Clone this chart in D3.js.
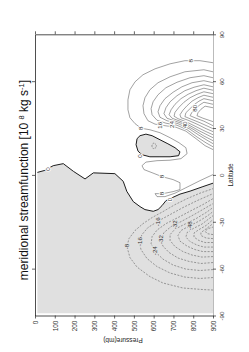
<!DOCTYPE html>
<html>
<head>
<meta charset="utf-8">
<script src="https://cdn.jsdelivr.net/npm/d3@7"></script>
<style>
  body { margin: 0; background: #fff; }
  svg { display: block; font-family: "Liberation Sans", Arial, sans-serif; }
</style>
</head>
<body>
<svg id="chart" width="249" height="352"></svg>
<script>
// axis ticks
var pressureTicks = [0, 100, 200, 300, 400, 500, 600, 700, 800, 900];
var latTicks = [90, 60, 30, 0, -30, -60, -90];
var latFrameTicks = [60, 0, -60];

// model domain edges (grid top level, southern-most row)
var modelTop = 12;
var modelSouth = -88.5;

// all lines are [latitude, pressure] pairs
var zeroLine = [[1.6,12],[2.9,50],[5.9,92],[7.2,143],[2.3,194],[-2.6,253],[1.3,295],[0.8,404],
    [-4.1,446],[-10.5,464],[-17.1,497],[-20.3,531],[-22.2,556],[-23.3,598],[-22.2,622],[-19.7,642],
    [-16.5,662],[-15.2,683],[-12.3,733],[-10.4,784],[-7.5,849],[-5.3,900]];

var zeroIsland = [[19.3,511],[23.2,516],[25.1,531],[26.1,561],[25.1,592],[22.5,632],[19.9,672],
    [17.4,708],[14.8,733],[12.3,726],[11.6,683],[11.6,632],[11.6,581],[12.9,541],[15.2,521]];

var islandCore = [[18.5,590],[20.5,600],[19.3,614],[17.4,612],[16.8,598]];

var posLevels = [8, 16, 24, 32, 40, 48, 56, 64, 72, 80, 88];
var posLines = [
    [[0.2,900],[-3.7,834],[-8.2,763],[-11.7,708],[-13.9,657],[-13.9,617],[-12.0,607],[-12.0,647],
     [-10.7,698],[-9.4,733],[-5.0,733],[-3.0,698],[-1.1,642],[1.4,592],[3.4,551],[5.9,541],[8.2,561],
     [9.1,617],[9.4,683],[10.4,738],[13.6,769],[17.4,763],[20.6,728],[23.8,683],[27.0,632],[28.9,581],
     [29.9,536],[32.8,506],[36.6,480],[41.7,470],[48.1,470],[54.5,480],[59.6,506],[64.1,546],[67.9,607],
     [71.1,683],[73.1,758],[73.1,834],[72.4,870],[71.8,900]],
    [[66.0,900],[67.3,854],[66.0,758],[62.8,683],[59.0,622],[54.5,581],[49.4,556],[44.3,546],[39.2,551],
     [34.7,571],[32.5,607],[31.5,657],[30.5,713],[28.0,763],[23.2,814],[18.7,860],[16.2,900]],
    [[62.2,900],[63.5,854],[62.2,784],[59.3,718],[55.8,662],[51.3,622],[46.8,597],[42.4,587],[38.5,592],
     [35.0,617],[33.1,662],[31.8,718],[28.9,769],[24.3,819],[20.5,865],[18.0,900]],
    [[59.0,900],[60.3,854],[59.0,794],[56.4,743],[52.9,698],[48.8,657],[44.3,632],[40.4,622],[36.9,632],
     [34.7,667],[32.8,723],[29.6,779],[25.4,829],[22.2,870],[20.0,900]],
    [[56.4,900],[57.7,854],[56.1,804],[53.9,758],[50.7,718],[46.8,683],[43.0,662],[39.2,652],[36.3,667],
     [34.7,703],[32.5,753],[28.9,804],[24.9,854],[21.9,900]],
    [[54.2,900],[55.5,854],[53.9,814],[51.6,774],[48.8,738],[45.2,708],[41.7,688],[38.5,678],[36.3,693],
     [34.4,733],[31.5,784],[28.0,834],[23.8,900]],
    [[52.0,900],[53.2,854],[51.6,819],[49.4,784],[46.5,753],[43.3,728],[40.1,708],[37.6,703],[36.0,723],
     [34.1,763],[30.9,814],[28.0,860],[25.7,900]],
    [[49.7,900],[51.0,854],[49.4,824],[47.2,794],[44.3,769],[41.4,748],[38.5,733],[36.6,738],[35.0,774],
     [32.5,819],[29.6,865],[27.7,900]],
    [[47.5,900],[48.8,854],[47.2,829],[44.9,804],[42.4,784],[39.8,763],[37.3,758],[35.7,789],[33.4,834],
     [29.6,900]],
    [[45.2,900],[46.5,854],[44.9,834],[42.7,814],[40.1,794],[37.9,784],[36.3,814],[34.4,854],[31.5,900]],
    [[43.0,900],[44.0,860],[42.0,839],[39.8,824],[37.9,819],[36.3,849],[34.1,900]]
];

var negLevels = [-8, -16, -24, -32, -40, -48, -56, -64, -72, -80];
var negLines = [
    [[-73.7,900],[-73.4,849],[-72.4,748],[-69.2,647],[-65.1,581],[-59.0,516],[-52.9,480],[-45.9,465],
     [-40.8,475],[-35.6,506],[-31.2,546],[-27.3,592],[-23.5,647],[-19.0,708],[-15.2,769],[-11.7,834],[-8.8,900]],
    [[-65.7,900],[-66.3,834],[-65.4,758],[-62.8,683],[-58.7,617],[-53.5,566],[-47.8,536],[-42.7,526],
     [-38.2,541],[-33.7,571],[-29.6,622],[-25.4,683],[-20.9,748],[-16.5,819],[-12.0,900]],
    [[-60.6,900],[-61.2,834],[-60.3,763],[-57.7,698],[-53.9,647],[-49.1,607],[-44.0,587],[-39.5,592],
     [-35.3,617],[-31.2,662],[-27.3,723],[-22.9,789],[-19.0,849],[-15.2,900]],
    [[-56.1,900],[-56.7,839],[-55.4,779],[-53.2,723],[-49.7,678],[-45.6,647],[-41.4,637],[-36.9,652],
     [-33.1,688],[-29.6,743],[-25.4,804],[-21.3,860],[-18.4,900]],
    [[-52.3,900],[-52.6,844],[-51.3,794],[-49.1,748],[-45.9,708],[-42.0,683],[-38.2,683],[-34.7,708],
     [-31.5,758],[-28.0,814],[-24.1,865],[-20.9,900]],
    [[-49.1,900],[-49.1,849],[-47.8,809],[-45.6,769],[-42.4,733],[-38.8,723],[-35.6,738],[-32.8,779],
     [-29.6,829],[-26.4,870],[-23.5,900]],
    [[-46.2,900],[-46.2,854],[-44.9,819],[-42.7,784],[-39.8,763],[-36.9,769],[-34.4,799],[-31.5,844],[-26.1,900]],
    [[-43.3,900],[-43.3,860],[-42.0,829],[-39.8,804],[-37.2,804],[-35.0,829],[-32.4,865],[-28.6,900]],
    [[-40.8,900],[-40.4,865],[-38.8,839],[-36.9,839],[-35.0,860],[-31.2,900]],
    [[-38.2,900],[-37.6,870],[-36.0,860],[-34.4,875],[-33.4,900]]
];

// contour labels: text, latitude, pressure
var labels = [
    ['8', 73.1, 789], ['8', 29.9, 536], ['8', -1.1, 642], ['8', -12.0, 642],
    ['16', 31.8, 632], ['24', 32.3, 693], ['40', 32.0, 760], ['80', 42.7, 809],
    ['0', 3.7, 63], ['0', 12.0, 531], ['0', -15.8, 683],
    ['-8', -45.9, 465], ['-16', -42.7, 531], ['-24', -48.5, 605], ['-32', -41.4, 637],
    ['-16', -30.0, 620], ['-32', -32.0, 705], ['-48', -32.5, 785]
];

var grey = '#e0e0e0';
var svg = d3.select('#chart');

var x = d3.scaleLinear().domain([0, 900]).range([35, 213]);
var y = d3.scaleLinear().domain([90, -90]).range([34.3, 315.5]);
var line = d3.line().x(function(d) { return x(d[1]); }).y(function(d) { return y(d[0]); });

// shaded negative area
svg.append('path')
    .attr('d', line(zeroLine.concat([[modelSouth, 900], [modelSouth, modelTop]])) + 'Z')
    .attr('fill', grey);
svg.append('path')
    .attr('d', line(zeroIsland) + 'Z')
    .attr('fill', grey);

// positive contours
svg.append('g').selectAll('path')
    .data(posLines)
    .join('path')
    .attr('class', function(d, i) { return 'c' + posLevels[i]; })
    .attr('d', line)
    .attr('fill', 'none')
    .attr('stroke', '#555')
    .attr('stroke-width', 0.55);

// negative contours (dashed)
svg.append('g').selectAll('path')
    .data(negLines)
    .join('path')
    .attr('class', function(d, i) { return 'c' + negLevels[i]; })
    .attr('d', line)
    .attr('fill', 'none')
    .attr('stroke', '#555')
    .attr('stroke-width', 0.55)
    .attr('stroke-dasharray', '2,1.4');

svg.append('path')
    .attr('d', line(islandCore) + 'Z')
    .attr('fill', 'none')
    .attr('stroke', '#555')
    .attr('stroke-width', 0.55)
    .attr('stroke-dasharray', '1.5,1');

// zero line, bold
svg.append('path')
    .attr('d', line(zeroLine))
    .attr('fill', 'none')
    .attr('stroke', '#111')
    .attr('stroke-width', 0.95);
svg.append('path')
    .attr('d', line(zeroIsland) + 'Z')
    .attr('fill', 'none')
    .attr('stroke', '#111')
    .attr('stroke-width', 0.95);

// contour labels
svg.append('g').selectAll('text')
    .data(labels)
    .join('text')
    .attr('transform', function(d) { return 'translate(' + x(d[2]) + ',' + y(d[1]) + ') rotate(-90)'; })
    .attr('text-anchor', 'middle')
    .attr('dy', '0.35em')
    .attr('font-size', 6.2)
    .attr('fill', '#333')
    .attr('stroke', function(d) { return d[0].charAt(0) === '-' ? grey : '#fff'; })
    .attr('stroke-width', 2)
    .attr('paint-order', 'stroke')
    .text(function(d) { return d[0]; });

// axes
function styleAxis(g) {
    g.attr('font-family', null).attr('font-size', null);
    g.selectAll('line').attr('stroke', '#222').attr('stroke-width', 0.7);
    g.select('.domain').attr('stroke', '#222').attr('stroke-width', 0.8);
}

var bottomAxis = svg.append('g')
    .attr('transform', 'translate(0,315.5)')
    .call(d3.axisBottom(x).tickValues(pressureTicks).tickSize(3).tickSizeOuter(0)
        .tickFormat(function(d) { return String(d); }))
    .call(styleAxis);
bottomAxis.selectAll('text')
    .attr('transform', 'rotate(-90)')
    .attr('x', -5).attr('y', 0).attr('dy', '0.35em')
    .attr('text-anchor', 'end')
    .attr('fill', '#333')
    .attr('font-size', 6.5);

svg.append('g')
    .attr('transform', 'translate(0,34.3)')
    .call(d3.axisTop(x).tickValues(pressureTicks).tickSize(3).tickSizeOuter(0).tickFormat(''))
    .call(styleAxis);

svg.append('g')
    .attr('transform', 'translate(35,0)')
    .call(d3.axisLeft(y).tickValues(latFrameTicks).tickSize(3).tickSizeOuter(0).tickFormat(''))
    .call(styleAxis);

var rightAxis = svg.append('g')
    .attr('transform', 'translate(213,0)')
    .call(d3.axisRight(y).tickValues(latTicks).tickSize(3).tickSizeOuter(0)
        .tickFormat(function(d) { return String(d); }))
    .call(styleAxis);
rightAxis.select('.domain').attr('stroke', '#aaa');
rightAxis.selectAll('text')
    .attr('transform', 'rotate(-90)')
    .attr('x', 0).attr('y', 10.5).attr('dy', 0)
    .attr('text-anchor', 'middle')
    .attr('fill', '#333')
    .attr('font-size', 6.2);

// titles
svg.append('text')
    .attr('transform', 'translate(233,175) rotate(-90)')
    .attr('text-anchor', 'middle')
    .attr('font-size', 6.5)
    .attr('fill', '#222')
    .text('Latitude');

svg.append('text')
    .attr('transform', 'translate(123,338) rotate(180)')
    .attr('text-anchor', 'middle')
    .attr('font-size', 6.5)
    .attr('fill', '#222')
    .text('Pressure(mb)');

var title = svg.append('text')
    .attr('transform', 'translate(28,180) rotate(-90)')
    .attr('text-anchor', 'middle')
    .attr('font-size', 12)
    .attr('fill', '#111');
title.append('tspan').text('meridional streamfunction [10 ');
title.append('tspan').attr('dy', -4.5).attr('font-size', 7.5).text('8');
title.append('tspan').attr('dy', 4.5).text(' kg s');
title.append('tspan').attr('dy', -4.5).attr('font-size', 7.5).text('-1');
title.append('tspan').attr('dy', 4.5).text(']');
</script>
</body>
</html>
